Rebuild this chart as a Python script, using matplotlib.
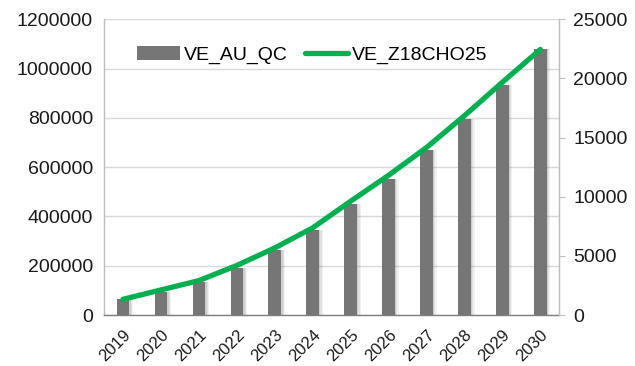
import matplotlib
matplotlib.use("Agg")
import matplotlib.pyplot as plt
import numpy as np

years = ["2019", "2020", "2021", "2022", "2023", "2024", "2025", "2026", "2027", "2028", "2029", "2030"]
ve_au_qc = [64000, 92000, 133000, 192000, 265000, 345000, 450000, 553000, 668000, 796000, 932000, 1078000]
ve_z18cho25 = [1330, 2120, 2910, 4190, 5670, 7370, 9620, 11810, 14160, 16850, 19680, 22450]
left_ticks = [0, 200000, 400000, 600000, 800000, 1000000, 1200000]
right_ticks = [0, 5000, 10000, 15000, 20000, 25000]

plt.rcParams['font.family'] = ['Liberation Sans', 'DejaVu Sans']

fig = plt.figure(figsize=(6.35, 3.66), dpi=100)
ax = fig.add_axes([0.1638, 0.1393, 0.7170, 0.8080])
x = np.arange(len(years))

# soft shadow behind bars
for off, a in [(0.05, 0.08), (0.035, 0.10), (0.02, 0.13)]:
    ax.bar(x + off, ve_au_qc, width=0.33 + 2 * off, color='#555555', alpha=a, zorder=2, linewidth=0)
bars = ax.bar(x, ve_au_qc, width=0.33, color='#767676', zorder=3, label='VE_AU_QC', linewidth=0)

ax.set_xlim(-0.5, 11.5)
ax.set_ylim(0, 1200000)
ax.set_yticks(left_ticks)
ax.set_yticklabels([str(v) for v in left_ticks], fontsize=14, color='#1a1a1a')
ax.yaxis.grid(True, color='#d9d9d9', linewidth=1.0, zorder=0)
ax.set_axisbelow(True)
ax.set_xticks(x)
ax.set_xticklabels(years, fontsize=12, rotation=45, ha='right', rotation_mode='anchor', color='#1a1a1a')
ax.tick_params(axis='x', length=0, pad=9)
ax.tick_params(axis='y', length=0, pad=8)

for s in ['left', 'right']:
    ax.spines[s].set_color('#bfbfbf')
    ax.spines[s].set_linewidth(1.0)
ax.spines['top'].set_visible(False)
ax.spines['bottom'].set_color('#7f7f7f')
ax.spines['bottom'].set_linewidth(1.0)

ax2 = ax.twinx()
line, = ax2.plot(x, ve_z18cho25, color='#00b050', linewidth=3.8, solid_capstyle='round', zorder=5, label='VE_Z18CHO25')
ax2.set_ylim(0, 25000)
ax2.set_yticks(right_ticks)
ax2.set_yticklabels([str(v) for v in right_ticks], fontsize=14, color='#1a1a1a')
ax2.tick_params(axis='y', length=4, color='#bfbfbf', pad=6)
for s in ['left', 'top', 'bottom']:
    ax2.spines[s].set_visible(False)
ax2.spines['right'].set_color('#bfbfbf')

leg = ax2.legend([bars, line], ['VE_AU_QC', 'VE_Z18CHO25'], loc='upper left', bbox_to_anchor=(0.055, 0.935),
                 ncol=2, frameon=False, fontsize=14, handlelength=2.2, handletextpad=0.2, columnspacing=0.9,
                 borderaxespad=0)

fig.savefig('out.png', dpi=100)
